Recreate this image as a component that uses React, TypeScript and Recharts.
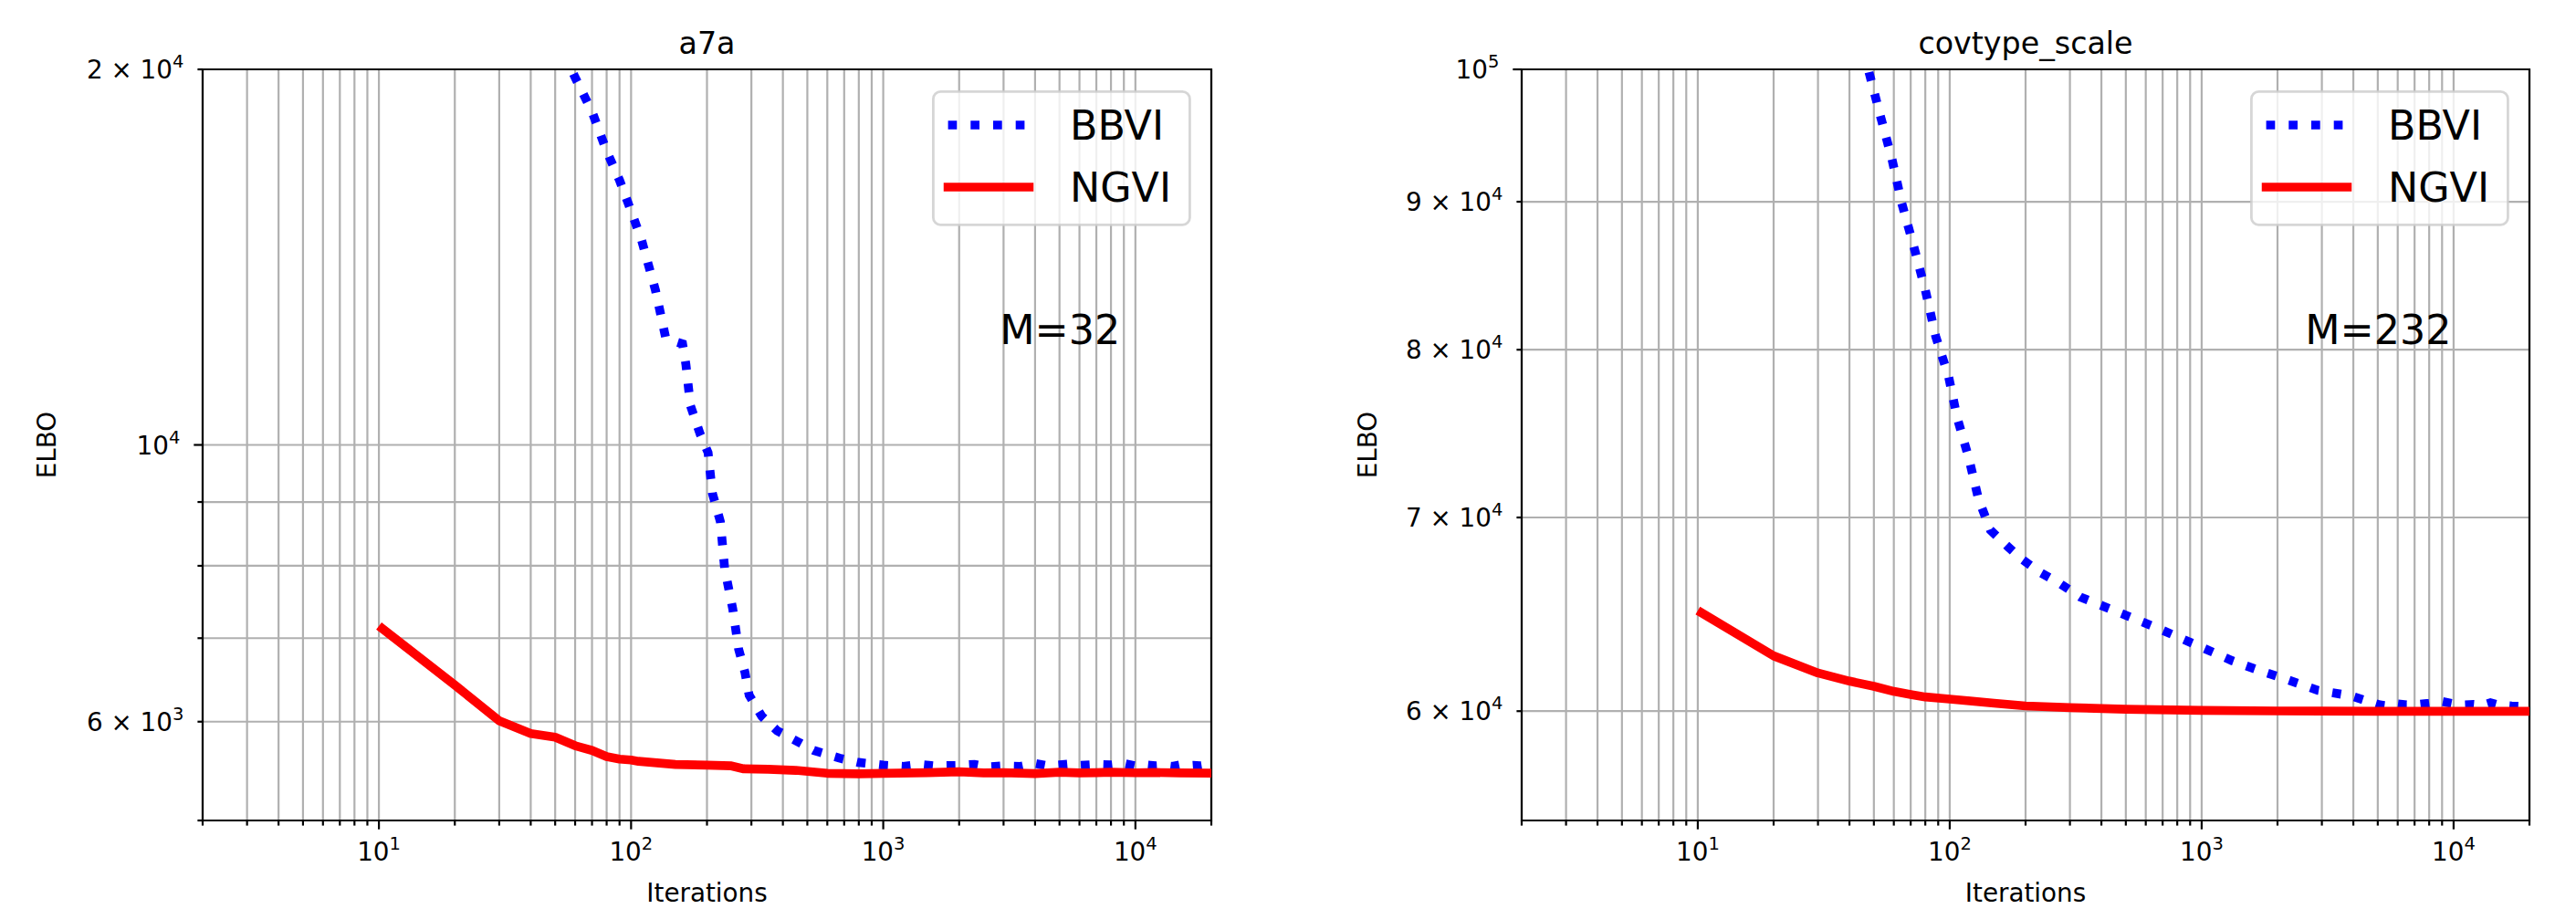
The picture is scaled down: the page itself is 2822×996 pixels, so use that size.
import React from 'react';
import {
  LineChart,
  Line,
  XAxis,
  YAxis,
  CartesianGrid,
  ReferenceArea,
  Legend,
  Customized,
} from 'recharts';

const FONT = '"DejaVu Sans", Verdana, sans-serif';

// ---------- axes ----------
const xTicks = [
  2, 3, 4, 5, 6, 7, 8, 9, 10, 20, 30, 40, 50, 60, 70, 80, 90, 100, 200, 300, 400, 500, 600, 700, 800, 900,
  1000, 2000, 3000, 4000, 5000, 6000, 7000, 8000, 9000, 10000, 20000,
];
const xMajor = [10, 100, 1000, 10000];
const xLabelBase = ['10', '10', '10', '10'];
const xLabelExp = ['1', '2', '3', '4'];

const a7aYTicks = [5000, 6000, 7000, 8000, 9000, 10000, 20000];
const a7aYLabelled = [20000, 10000, 6000];
const a7aYLabelBase = ['2 × 10', '10', '6 × 10'];
const a7aYLabelExp = ['4', '4', '3'];
const a7aYMajor = [10000];

const covYTicks = [60000, 70000, 80000, 90000, 100000];
const covYLabelled = [100000, 90000, 80000, 70000, 60000];
const covYLabelBase = ['10', '9 × 10', '8 × 10', '7 × 10', '6 × 10'];
const covYLabelExp = ['5', '4', '4', '4', '4'];
const covYMajor = [100000];

// ---------- a7a data ----------
const a7aBbviIters = [
  50, 58, 60, 70, 80, 90, 100, 110, 125, 137, 150, 160, 165, 172, 188, 202, 210, 226, 235, 253, 267, 283, 294,
  330, 380, 460, 530, 670, 800, 1000, 1200, 1400, 1600, 2000, 2300, 2600, 3000, 3500, 4000, 4500, 5000, 5500,
  6000, 7000, 8000, 9000, 10000, 11000, 12000, 13000, 14000, 15000, 16000, 17000, 18000, 19000, 20000,
];
const a7aBbviVals = [
  21400, 20000, 19700, 18500, 17200, 16300, 15400, 14600, 13300, 12200, 12100, 12050, 11600, 10750, 10200, 9860,
  9150, 8680, 7960, 7390, 6860, 6570, 6300, 6060, 5900, 5780, 5690, 5610, 5565, 5537, 5525, 5545, 5530, 5535,
  5545, 5520, 5530, 5525, 5555, 5530, 5540, 5550, 5535, 5545, 5540, 5555, 5530, 5540, 5530, 5535, 5525, 5540,
  5530, 5535, 5530, 5540, 5560,
];
const a7aNgviIters = [
  10, 20, 30, 40, 50, 60, 70, 80, 90, 100, 107, 150, 200, 250, 280, 350, 450, 600, 800, 1000, 1500, 2000, 2500,
  3000, 4000, 5000, 6000, 7000, 8000, 10000, 12000, 15000, 20000,
];
const a7aNgviVals = [
  7160, 6420, 6010, 5870, 5830, 5740, 5690, 5625, 5600, 5590, 5577, 5545, 5537, 5530, 5500, 5496, 5485, 5455,
  5450, 5455, 5462, 5470, 5458, 5462, 5452, 5466, 5458, 5462, 5466, 5460, 5463, 5458, 5456,
];

// ---------- covtype_scale data ----------
const covBbviIters = [
  45, 47.5, 53, 59, 64.5, 72, 80, 88, 99, 107, 119, 130, 145, 170, 194, 229, 275, 330, 444, 640, 920, 1320, 1670,
  2100, 2900, 3900, 4500, 5100, 5500, 6000, 6500, 7000, 8000, 9000, 10000, 11000, 12000, 13000, 14000, 15000,
  17000, 20000,
];
const covBbviVals = [
  101500, 100000, 96400, 93100, 89900, 86850, 83900, 80850, 78300, 75800, 73400, 71050, 69300, 68400, 67700,
  67000, 66400, 65700, 65030, 64200, 63330, 62460, 62000, 61600, 61000, 60740, 60500, 60300, 60250, 60350, 60300,
  60300, 60380, 60460, 60350, 60300, 60320, 60280, 60400, 60300, 60250, 60220,
];
const covNgviIters = [10, 20, 30, 40, 50, 60, 70, 80, 100, 150, 200, 300, 500, 1000, 2000, 5000, 10000, 20000];
const covNgviVals = [
  65000, 62700, 61850, 61450, 61200, 60950, 60800, 60680, 60580, 60380, 60250, 60170, 60090, 60040, 60010, 59990,
  59990, 59990,
];

const zip = (xs: number[], ys: number[]) => xs.map((x, i) => ({ x, y: ys[i] }));

const seriesNames = ['BBVI', 'NGVI'];
const seriesColors = ['#0000ff', '#ff0000'];

// ---------- pieces ----------
const TICK_MAJOR = 9.7;
const TICK_MINOR = 5.6;
const SPINE = 2.2;

const XTick = (props: any) => {
  const { x, y, payload } = props;
  const idx = xMajor.indexOf(payload.value);
  const len = idx >= 0 ? TICK_MAJOR : TICK_MINOR;
  return (
    <g>
      <line x1={x} x2={x} y1={y} y2={y + len} stroke="#000" strokeWidth={SPINE} />
      {idx >= 0 && (
        <text x={x} y={y + 44} textAnchor="middle" fontFamily={FONT} fontSize={27.8} fill="#000">
          {xLabelBase[idx]}
          <tspan dy={-12} fontSize={19.5}>
            {xLabelExp[idx]}
          </tspan>
        </text>
      )}
    </g>
  );
};

const makeYTick = (labelled: number[], bases: string[], exps: string[], major: number[]) => (props: any) => {
  const { x, y, payload } = props;
  const idx = labelled.indexOf(payload.value);
  const len = major.includes(payload.value) ? TICK_MAJOR : TICK_MINOR;
  return (
    <g>
      <line x1={x - len} x2={x} y1={y} y2={y} stroke="#000" strokeWidth={SPINE} />
      {idx >= 0 && (
        <text x={x - len - 15} y={y + 10} textAnchor="end" fontFamily={FONT} fontSize={27.8} fill="#000">
          {bases[idx]}
          <tspan dy={-12} fontSize={19.5}>
            {exps[idx]}
          </tspan>
        </text>
      )}
    </g>
  );
};

const LegendBox = () => (
  <svg width={284} height={149} style={{ display: 'block', overflow: 'visible' }}>
    <rect
      x={1.4}
      y={1.4}
      width={281}
      height={146}
      rx={8}
      fill="rgba(255,255,255,0.8)"
      stroke="rgba(204,204,204,0.8)"
      strokeWidth={2.8}
    />
    <line x1={17.6} x2={106.4} y1={38} y2={38} stroke={seriesColors[0]} strokeWidth={9.7} strokeDasharray="9.7 15" />
    <text x={151} y={54} fontFamily={FONT} fontSize={44.4} fill="#000">
      {seriesNames[0]}
    </text>
    <line x1={17.6} x2={106.4} y1={106} y2={106} stroke={seriesColors[1]} strokeWidth={9.7} strokeLinecap="square" />
    <text x={151} y={122} fontFamily={FONT} fontSize={44.4} fill="#000">
      {seriesNames[1]}
    </text>
  </svg>
);

type PanelProps = {
  title: string;
  note: string;
  width: number;
  left: number;
  right: number;
  ylabelX: number;
  yTicks: number[];
  yDomain: [number, number];
  yLabelled: number[];
  yBases: string[];
  yExps: string[];
  yMajor: number[];
  bbvi: { x: number; y: number }[];
  ngvi: { x: number; y: number }[];
};

const TOP = 76;
const BOTTOM = 899;
const H = 996;

const Panel = (p: PanelProps) => {
  const plotW = p.width - p.left - p.right;
  const YTick = makeYTick(p.yLabelled, p.yBases, p.yExps, p.yMajor);
  const Texts = () => (
    <g fontFamily={FONT} fill="#000">
      <text x={p.left + plotW / 2} y={59} textAnchor="middle" fontSize={33.3}>
        {p.title}
      </text>
      <text x={p.left + plotW / 2} y={988} textAnchor="middle" fontSize={27.8}>
        Iterations
      </text>
      <text
        x={p.ylabelX}
        y={(TOP + BOTTOM) / 2}
        textAnchor="middle"
        fontSize={27.8}
        transform={`rotate(-90 ${p.ylabelX} ${(TOP + BOTTOM) / 2})`}
      >
        ELBO
      </text>
      <text x={p.left + plotW * 0.85} y={377} textAnchor="middle" fontSize={44.4}>
        {p.note}
      </text>
    </g>
  );
  return (
    <LineChart
      width={p.width}
      height={H}
      margin={{ top: TOP, right: p.right, bottom: H - BOTTOM - 1, left: p.left - 1 }}
    >
      <CartesianGrid stroke="#b0b0b0" strokeWidth={2.2} />
      <XAxis
        dataKey="x"
        type="number"
        scale="log"
        domain={[2, 20000]}
        allowDataOverflow
        ticks={xTicks}
        interval={0}
        height={1}
        tickSize={0}
        tickMargin={0}
        tickLine={false}
        axisLine={false}
        tick={<XTick />}
      />
      <YAxis
        type="number"
        scale="log"
        domain={p.yDomain}
        allowDataOverflow
        ticks={p.yTicks}
        interval={0}
        width={1}
        tickSize={0}
        tickMargin={0}
        tickLine={false}
        axisLine={false}
        tick={<YTick />}
      />
      <Line
        data={p.bbvi}
        dataKey="y"
        name={seriesNames[0]}
        stroke={seriesColors[0]}
        strokeWidth={9.7}
        strokeDasharray="9.7 15"
        strokeLinecap="butt"
        dot={false}
        activeDot={false}
        isAnimationActive={false}
        type="linear"
      />
      <Line
        data={p.ngvi}
        dataKey="y"
        name={seriesNames[1]}
        stroke={seriesColors[1]}
        strokeWidth={9.7}
        strokeLinejoin="round"
        dot={false}
        activeDot={false}
        isAnimationActive={false}
        type="linear"
      />
      <ReferenceArea
        x1={2}
        x2={20000}
        y1={p.yDomain[0]}
        y2={p.yDomain[1]}
        fill="none"
        stroke="#000"
        strokeWidth={SPINE}
        ifOverflow="visible"
      />
      <Legend
        layout="vertical"
        align="center"
        verticalAlign="middle"
        wrapperStyle={{ left: p.width - p.right - 306.3, top: 99, width: 284, height: 149 }}
        content={() => <LegendBox />}
      />
      <Customized component={<Texts />} />
    </LineChart>
  );
};

export default function App() {
  return (
    <div style={{ position: 'absolute', left: 0, top: 0, width: 2822, height: 996, background: '#fff' }}>
      <div style={{ position: 'absolute', left: 0, top: 0 }}>
        <Panel
          title="a7a"
          note="M=32"
          width={1411}
          left={222}
          right={84}
          ylabelX={61}
          yTicks={a7aYTicks}
          yDomain={[5000, 20000]}
          yLabelled={a7aYLabelled}
          yBases={a7aYLabelBase}
          yExps={a7aYLabelExp}
          yMajor={a7aYMajor}
          bbvi={zip(a7aBbviIters, a7aBbviVals)}
          ngvi={zip(a7aNgviIters, a7aNgviVals)}
        />
      </div>
      <div style={{ position: 'absolute', left: 1411, top: 0 }}>
        <Panel
          title="covtype_scale"
          note="M=232"
          width={1411}
          left={256}
          right={51}
          ylabelX={97}
          yTicks={covYTicks}
          yDomain={[55000, 100000]}
          yLabelled={covYLabelled}
          yBases={covYLabelBase}
          yExps={covYLabelExp}
          yMajor={covYMajor}
          bbvi={zip(covBbviIters, covBbviVals)}
          ngvi={zip(covNgviIters, covNgviVals)}
        />
      </div>
    </div>
  );
}
